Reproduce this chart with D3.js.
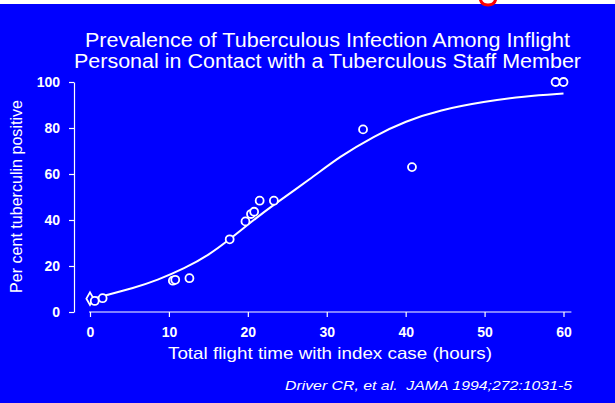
<!DOCTYPE html>
<html><head><meta charset="utf-8">
<script src="https://cdn.jsdelivr.net/npm/d3@7"></script>
<style>
html,body{margin:0;padding:0;background:#0000ff;overflow:hidden;}
svg{display:block;font-family:"Liberation Sans",Arial,sans-serif;}
</style></head>
<body>
<svg id="chart" width="615" height="403"></svg>
<script>
// Observed points (hours, per cent positive)
const obsHours   = [0, 0.6, 1.6, 10.5, 10.8, 12.6, 17.7, 19.7, 20.4, 20.8, 21.5, 23.3, 34.6, 40.8, 59.0, 60.0];
const obsPercent = [5.8, 4.8, 6.0, 13.6, 14.0, 14.7, 31.6, 39.4, 42.6, 43.6, 48.4, 48.4, 79.4, 63.0, 100, 100];
const obsShape   = ["diamond","circle","circle","circle","circle","circle","circle","circle","circle","circle","circle","circle","circle","circle","circle","circle"];
// Fitted curve
const fitHours   = [0, 2, 5.5, 8.5, 12, 15, 17.7, 20, 23, 28, 31.6, 36, 40, 44.3, 50, 55, 60];
const fitPercent = [5.5, 7.3, 10.4, 13.8, 19, 24.6, 31.6, 38, 46, 58, 67.5, 76.5, 83, 87.8, 91.5, 93.8, 95];
// Axis ticks
const xTicks = [0, 10, 20, 30, 40, 50, 60];
const yTicks = [0, 20, 40, 60, 80, 100];
const titleLines = ["Prevalence of Tuberculous Infection Among Inflight",
                    "Personal in Contact with a Tuberculous Staff Member"];
const xLabel = "Total flight time with index case (hours)";
const yLabel = "Per cent tuberculin positive";
const citation = "Driver CR, et al.  JAMA 1994;272:1031-5";

const svg = d3.select("#chart");
const W = 615, H = 403;
svg.append("rect").attr("width", W).attr("height", H).attr("fill", "#0000ff");
// white strip at top with the cut-off red stroke seen in the picture
svg.append("rect").attr("width", W).attr("height", 4).attr("fill", "#ffffff");
svg.append("path").attr("d", "M480,-2 Q481,5 488,5 Q495,5 496,-2")
  .attr("fill", "none").attr("stroke", "#ff0000").attr("stroke-width", 3);

const x = d3.scaleLinear().domain([0, 60]).range([90, 563.5]);
const y = d3.scaleLinear().domain([0, 100]).range([312, 82]);

// Title
const titleWidths = [485, 507];
svg.append("g").selectAll("text").data(titleLines).join("text")
  .attr("x", 327.5).attr("y", (d, i) => 47 + i * 20.5)
  .attr("text-anchor", "middle").attr("fill", "#fff").attr("font-size", 19.5)
  .attr("textLength", (d, i) => titleWidths[i]).attr("lengthAdjust", "spacingAndGlyphs")
  .text(d => d);

// Y axis
const yAxis = svg.append("g").attr("transform", "translate(74,0)")
  .call(d3.axisLeft(y).tickValues(yTicks).tickSize(5).tickSizeOuter(0).tickPadding(9));
// X axis
const xAxis = svg.append("g").attr("transform", "translate(0,312)")
  .call(d3.axisBottom(x).tickValues(xTicks).tickSize(5).tickSizeOuter(0).tickPadding(10));
xAxis.select(".domain").attr("d", `M${x(0) - 1},0H${x(61)}`);
[yAxis, xAxis].forEach(a => {
  a.selectAll("path,line").attr("stroke", "#fff").attr("stroke-width", 1.2);
  a.selectAll("text").attr("fill", "#fff").attr("font-size", 14).attr("font-weight", "bold")
    .attr("font-family", "'Liberation Sans',Arial,sans-serif");
});

// Axis labels
svg.append("text").attr("transform", "translate(22,196.5) rotate(-90)")
  .attr("text-anchor", "middle").attr("fill", "#fff").attr("font-size", 16)
  .attr("textLength", 193).attr("lengthAdjust", "spacingAndGlyphs").text(yLabel);
svg.append("text").attr("x", 330).attr("y", 359)
  .attr("text-anchor", "middle").attr("fill", "#fff").attr("font-size", 16.5)
  .attr("textLength", 324).attr("lengthAdjust", "spacingAndGlyphs").text(xLabel);
svg.append("text").attr("x", 572).attr("y", 390).attr("text-anchor", "end")
  .attr("fill", "#fff").attr("font-size", 13).attr("font-style", "italic")
  .attr("textLength", 287).attr("lengthAdjust", "spacingAndGlyphs")
  .style("white-space", "pre").text(citation);

// Fitted curve
const fit = fitHours.map((h, i) => [h, fitPercent[i]]);
svg.append("path").datum(fit)
  .attr("d", d3.line().x(d => x(d[0])).y(d => y(d[1])).curve(d3.curveBasis))
  .attr("fill", "none").attr("stroke", "#fff").attr("stroke-width", 2);

// Observed points
const pts = obsHours.map((h, i) => ({h, p: obsPercent[i], s: obsShape[i]}));
svg.append("g").selectAll("path").data(pts).join("path")
  .attr("transform", d => `translate(${x(d.h)},${y(d.p)})`)
  .attr("d", d => d3.symbol().type(d.s === "diamond" ? d3.symbolDiamond : d3.symbolCircle)
                               .size(d.s === "diamond" ? 45 : 50)())
  .attr("fill", "#0000ff").attr("stroke", "#fff").attr("stroke-width", 1.8);
</script>
</body></html>
